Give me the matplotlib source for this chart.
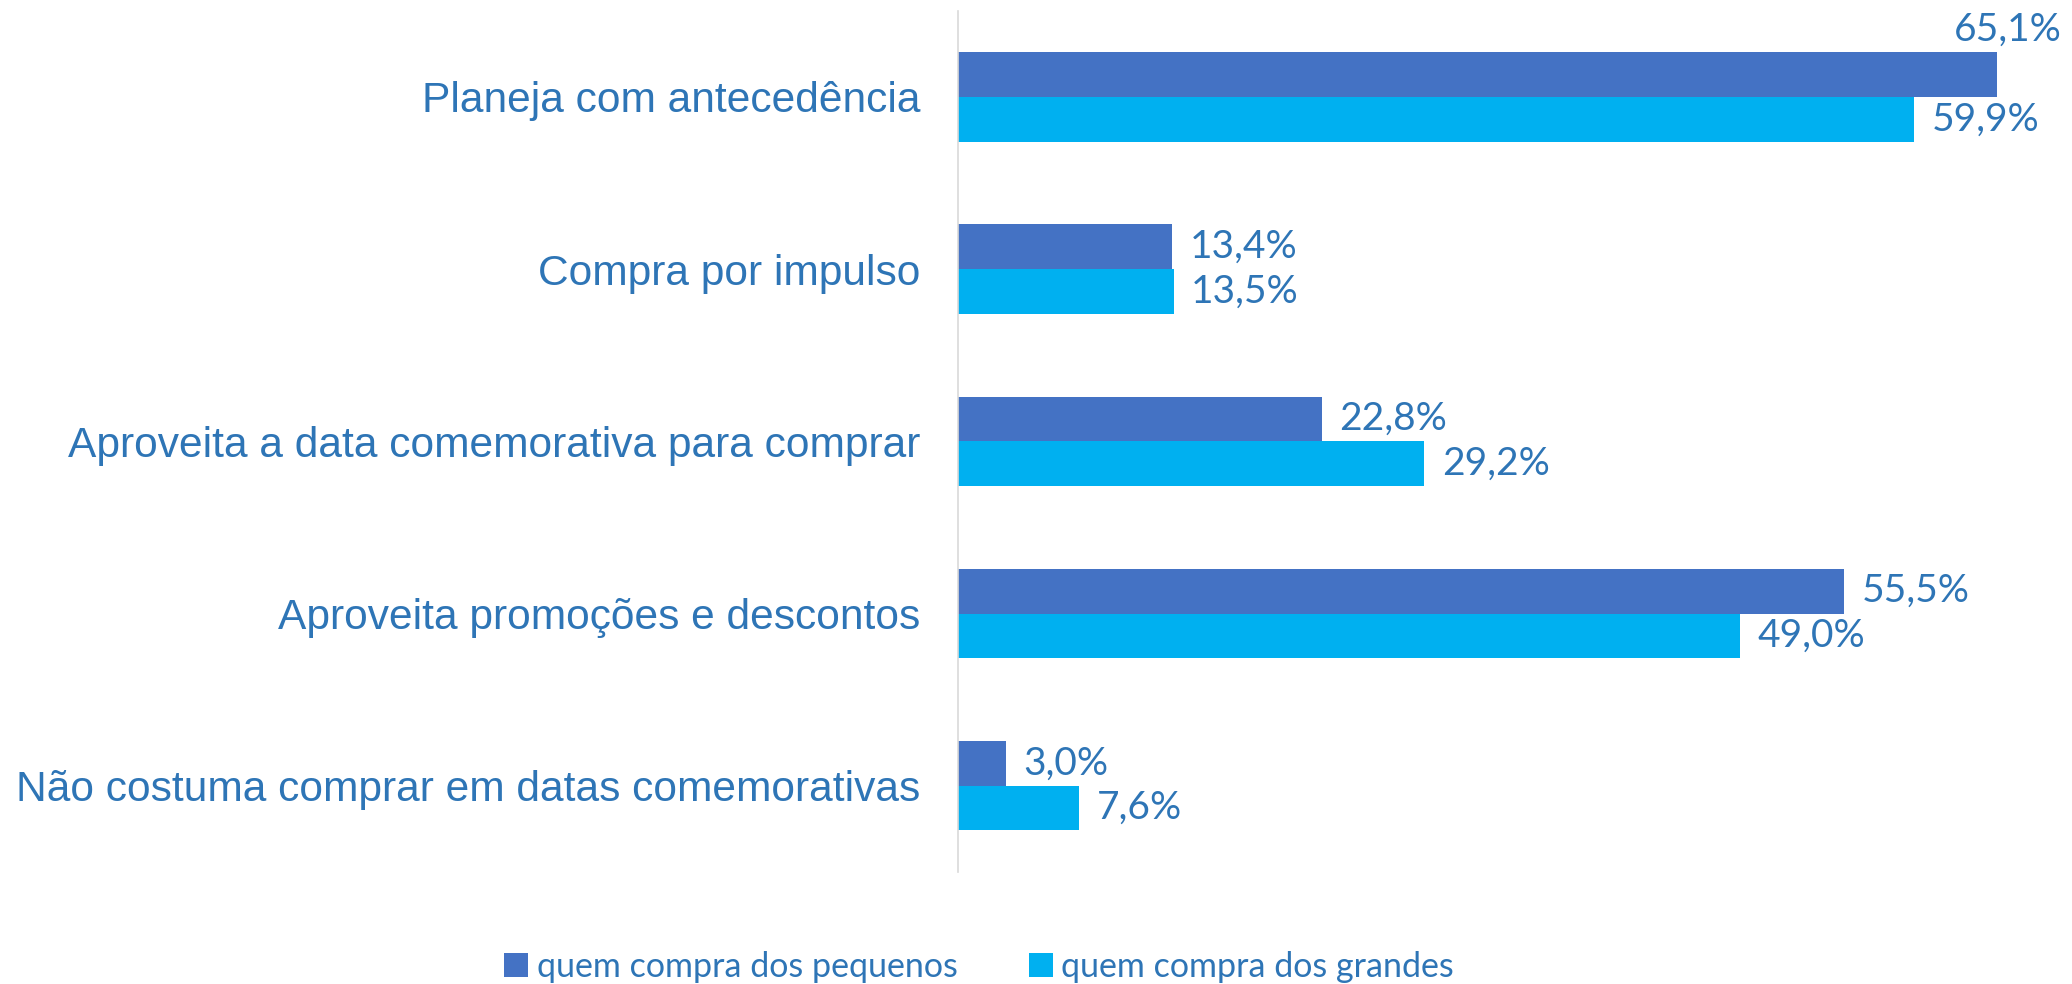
import matplotlib.pyplot as plt
import numpy as np

categorias = ["Planeja com antecedência",
              "Compra por impulso",
              "Aproveita a data comemorativa para comprar",
              "Aproveita promoções e descontos",
              "Não costuma comprar em datas comemorativas"]
pequenos = [65.1, 13.4, 22.8, 55.5, 3.0]
grandes = [59.9, 13.5, 29.2, 49.0, 7.6]
series_nomes = ["quem compra dos pequenos", "quem compra dos grandes"]

cor_pequenos = "#4472C4"
cor_grandes = "#00B0F0"
cor_texto = "#2E75B6"

fig = plt.figure(figsize=(20.72, 9.84), dpi=100)
ax = fig.add_axes([0.4624, 0.114, 0.5376, 0.875])

y = np.arange(len(categorias))
h = 0.26
b1 = ax.barh(y - h / 2, pequenos, height=h, color=cor_pequenos, label=series_nomes[0])
b2 = ax.barh(y + h / 2, grandes, height=h, color=cor_grandes, label=series_nomes[1])

# rótulos dos valores
for barras, valores in [(b1, pequenos), (b2, grandes)]:
    for barra, v in zip(barras, valores):
        yy = barra.get_y() + barra.get_height() / 2
        if v > 62:
            ax.text(v + 0.7, yy - 0.26, f"{v:.1f}%".replace(".", ","), ha="center",
                    va="center", fontsize=28, color=cor_texto, family="Lato")
        else:
            ax.text(v + 1.1, yy, f"{v:.1f}%".replace(".", ","), ha="left",
                    va="center", fontsize=28, color=cor_texto, family="Lato")

ax.set_ylim(len(categorias) - 0.5, -0.5)
ax.set_xlim(0, 69.8)
ax.set_yticks(y)
ax.set_yticklabels(categorias, fontsize=30.6, color=cor_texto, family="Liberation Sans")
ax.tick_params(axis="y", length=0, pad=27)
ax.set_xticks([])
for lado in ["top", "right", "bottom"]:
    ax.spines[lado].set_visible(False)
ax.spines["left"].set_color("#D9D9D9")
ax.spines["left"].set_linewidth(1.2)

leg = fig.legend(loc="lower center", bbox_to_anchor=(0.4726, -0.03), ncol=2, frameon=False,
                 prop={"family": "Lato", "size": 24.5}, handlelength=0.7, handleheight=0.7,
                 handletextpad=0.25, columnspacing=2.1)
for t in leg.get_texts():
    t.set_color(cor_texto)

fig.savefig("out.png", dpi=100)
